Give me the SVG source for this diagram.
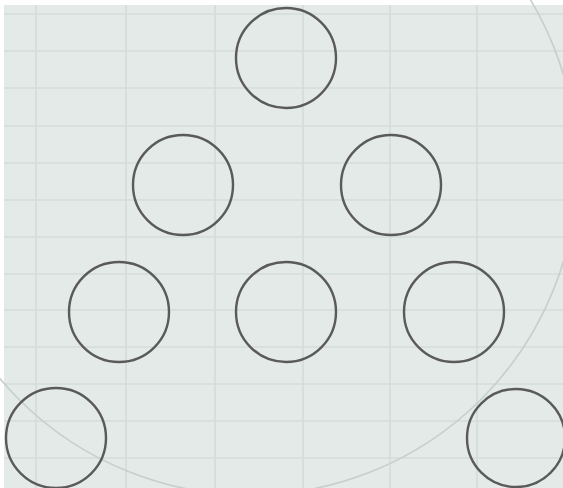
<svg xmlns="http://www.w3.org/2000/svg" width="563" height="488" viewBox="0 0 563 488">
  <defs>
    <style>
      .grid line { stroke: #d3dcd8; stroke-width: 1.6; }
      .node circle { fill: none; stroke: #5a5a5a; stroke-width: 2.4; }
      .faint { fill: none; stroke: #c6cfcc; stroke-width: 1.6; }
    </style>
  </defs>
  <rect x="0" y="0" width="563" height="488" fill="#ffffff"/>
  <rect x="4" y="5" width="559" height="483" fill="#e3eae7"/>
  <g class="grid">
    <line x1="36" y1="5" x2="36" y2="488"/>
    <line x1="126" y1="5" x2="126" y2="488"/>
    <line x1="215" y1="5" x2="215" y2="488"/>
    <line x1="303" y1="5" x2="303" y2="488"/>
    <line x1="390" y1="5" x2="390" y2="488"/>
    <line x1="477" y1="5" x2="477" y2="488"/>
    <line x1="4" y1="14" x2="563" y2="14"/>
    <line x1="4" y1="51" x2="563" y2="51"/>
    <line x1="4" y1="88" x2="563" y2="88"/>
    <line x1="4" y1="126" x2="563" y2="126"/>
    <line x1="4" y1="163" x2="563" y2="163"/>
    <line x1="4" y1="200" x2="563" y2="200"/>
    <line x1="4" y1="237" x2="563" y2="237"/>
    <line x1="4" y1="274" x2="563" y2="274"/>
    <line x1="4" y1="310" x2="563" y2="310"/>
    <line x1="4" y1="347" x2="563" y2="347"/>
    <line x1="4" y1="384" x2="563" y2="384"/>
    <line x1="4" y1="421" x2="563" y2="421"/>
    <line x1="4" y1="458" x2="563" y2="458"/>
  </g>
  <circle class="faint" cx="250" cy="168" r="327"/>
  <g id="connectors"></g>
  <g id="n1" class="node"><circle cx="286" cy="58" r="50"/></g>
  <g id="n2" class="node"><circle cx="183" cy="185" r="50"/></g>
  <g id="n3" class="node"><circle cx="391" cy="185" r="50"/></g>
  <g id="n4" class="node"><circle cx="119" cy="312" r="50"/></g>
  <g id="n5" class="node"><circle cx="286" cy="312" r="50"/></g>
  <g id="n6" class="node"><circle cx="454" cy="312" r="50"/></g>
  <g id="n7" class="node"><circle cx="56" cy="438" r="50"/></g>
  <g id="n8" class="node"><circle cx="516" cy="438" r="49"/></g>
</svg>
